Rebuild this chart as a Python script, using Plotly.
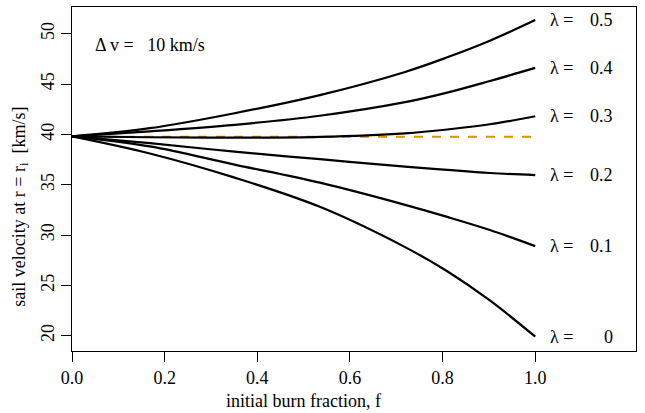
import plotly.graph_objects as go

# burn fraction sample points
f_vals = [0.0, 0.168, 0.351, 0.535, 0.719, 0.81, 0.902, 1.0]

# sail velocity [km/s] for each lambda
v_lam0 = [39.8, 38.1, 35.7, 32.8, 28.8, 26.4, 23.5, 19.9]
v_lam01 = [39.8, 38.8, 37.0, 35.2, 33.0, 31.8, 30.5, 28.9]
v_lam02 = [39.8, 39.12, 38.28, 37.53, 36.8, 36.47, 36.16, 35.95]
v_lam03 = [39.8, 39.71, 39.67, 39.75, 40.1, 40.48, 41.0, 41.8]
v_lam04 = [39.8, 40.3, 40.95, 41.85, 43.2, 44.15, 45.3, 46.6]
v_lam05 = [39.8, 40.61, 42.1, 43.9, 46.2, 47.65, 49.3, 51.35]

lam_labels = ["0", "0.1", "0.2", "0.3", "0.4", "0.5"]
series = [v_lam0, v_lam01, v_lam02, v_lam03, v_lam04, v_lam05]

# reference (dashed) level
ref_f = [0.0, 1.0]
ref_v = [39.75, 39.75]

x_ticks = [0.0, 0.2, 0.4, 0.6, 0.8, 1.0]
x_ticktext = ["0.0", "0.2", "0.4", "0.6", "0.8", "1.0"]
y_ticks = [20, 25, 30, 35, 40, 45, 50]

FONT = "Liberation Serif"
FS = 18

fig = go.Figure()
fig.add_trace(go.Scatter(x=ref_f, y=ref_v, mode="lines",
                         line=dict(color="#DB9400", width=2, dash="dash"),
                         showlegend=False, hoverinfo="skip"))
for vals in series:
    fig.add_trace(go.Scatter(x=f_vals, y=vals, mode="lines",
                             line=dict(color="black", width=2.2, shape="spline", smoothing=1.0),
                             showlegend=False, hoverinfo="skip"))

annotations = []
for lab, vals in zip(lam_labels, series):
    yv = vals[-1]
    annotations.append(dict(x=1.027, y=yv, xref="x", yref="y", text="λ =",
                            showarrow=False, xanchor="left", yanchor="middle",
                            font=dict(family=FONT, size=FS, color="black")))
    annotations.append(dict(x=1.172, y=yv, xref="x", yref="y", text=lab,
                            showarrow=False, xanchor="right", yanchor="middle",
                            font=dict(family=FONT, size=FS, color="black")))

annotations.append(dict(x=0.045, y=48.9, xref="x", yref="y",
                        text="Δ v =&nbsp;&nbsp; 10 km/s", showarrow=False,
                        xanchor="left", yanchor="middle",
                        font=dict(family=FONT, size=FS, color="black")))
annotations.append(dict(x=0.5, y=-0.145, xref="x", yref="paper",
                        text="initial burn fraction, f", showarrow=False,
                        xanchor="center", yanchor="middle",
                        font=dict(family=FONT, size=FS, color="black")))
annotations.append(dict(x=-0.092, y=0.42, xref="paper", yref="paper",
                        text="sail velocity at r = r<sub>i</sub>  [km/s]",
                        textangle=-90, showarrow=False,
                        xanchor="center", yanchor="middle",
                        font=dict(family=FONT, size=FS, color="black")))

fig.update_layout(
    width=645, height=413,
    margin=dict(l=72, r=9, t=7, b=62),
    plot_bgcolor="white", paper_bgcolor="white",
    font=dict(family=FONT, size=FS, color="black"),
    annotations=annotations,
    xaxis=dict(range=[0, 1.2175], tickvals=x_ticks, ticktext=x_ticktext,
               showgrid=False, zeroline=False, showline=True, mirror=True,
               linecolor="black", linewidth=1.2, ticks="outside", ticklen=10,
               tickcolor="black", tickwidth=1.2,
               tickfont=dict(family=FONT, size=FS, color="black")),
    yaxis=dict(range=[18.48, 52.65], tickvals=y_ticks,
               showgrid=False, zeroline=False, showline=True, mirror=True,
               linecolor="black", linewidth=1.2, ticks="outside", ticklen=10,
               tickcolor="black", tickwidth=1.2, tickangle=-90,
               tickfont=dict(family=FONT, size=FS, color="black")),
)

fig.write_html("out.html", config={"displayModeBar": False},
               post_script="document.body.style.margin='0';document.body.style.overflow='hidden';")
